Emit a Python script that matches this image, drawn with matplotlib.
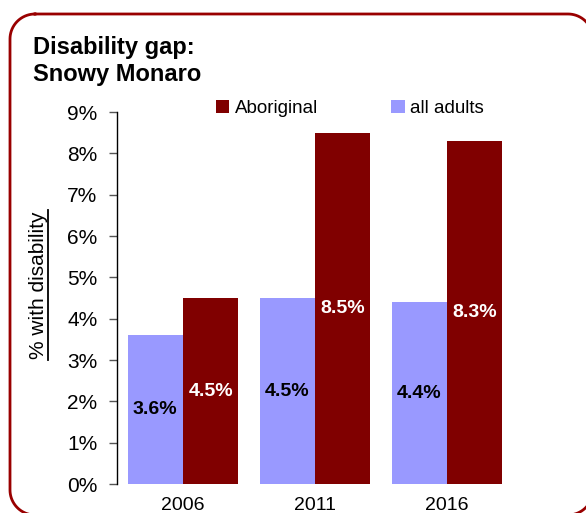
import matplotlib.pyplot as plt
import numpy as np

plt.rcParams['font.family'] = ['Liberation Sans', 'DejaVu Sans']

years = ['2006', '2011', '2016']
all_adults = [3.6, 4.5, 4.4]
aboriginal = [4.5, 8.5, 8.3]
yticks = [0, 1, 2, 3, 4, 5, 6, 7, 8, 9]

lav = '#9999FF'
maroon = '#800000'

W, H = 586, 513
fig = plt.figure(figsize=(W/100, H/100), dpi=100)
ax = fig.add_axes([117/W, 29/H, 396/W, 372/H])

x = np.arange(len(years))
w = 0.42
b1 = ax.bar(x - w/2, all_adults, w, color=lav, label='all adults')
b2 = ax.bar(x + w/2, aboriginal, w, color=maroon, label='Aboriginal')

# etichette al centro delle barre
for i in range(len(years)):
    ax.text(x[i] - w/2, all_adults[i]/2, f'{all_adults[i]:.1f}%', ha='center', va='center',
            fontsize=14, fontweight='bold', color='black')
    ax.text(x[i] + w/2, aboriginal[i]/2, f'{aboriginal[i]:.1f}%', ha='center', va='center',
            fontsize=14, fontweight='bold', color='white')

ax.set_xlim(-0.5, 2.5)
ax.set_ylim(0, 9)
ax.set_yticks(yticks)
ax.set_yticklabels([f'{v}%' for v in yticks], fontsize=15)
ax.set_xticks(x)
ax.set_xticklabels(years, fontsize=14)
ax.tick_params(axis='x', length=0, pad=9.5)
ax.tick_params(axis='y', length=6, width=1, color='#555555', pad=8)
for s in ['top', 'right', 'bottom']:
    ax.spines[s].set_visible(False)
ax.spines['left'].set_linewidth(1)

leg = ax.legend([b2, b1], ['Aboriginal', 'all adults'], ncol=2, frameon=False,
                loc='center left', bbox_to_anchor=(0.232, 1.01), fontsize=13.5,
                handlelength=0.7, handleheight=0.7, handletextpad=0.3,
                columnspacing=3.9, borderaxespad=0)

fig.text(33/W, 1 - 61/H, 'Disability gap:\nSnowy Monaro', fontsize=17,
         fontweight='bold', ha='left', va='center', linespacing=1.2)

# etichetta asse y sottolineata
fig.text(39/W, 1 - 285/H, '% with disability', fontsize=15, rotation=90,
         ha='center', va='center')
fig.add_artist(plt.Line2D([48/W, 48/W], [1 - 210/H, 1 - 360/H],
                          color='black', lw=1.3, transform=fig.transFigure))

# cornice arrotondata (in pixel, origine in alto a sinistra)
# ordine: alto-sx, basso-sx, basso-dx, alto-dx
L, T, R, B, rad = 10, 14, 593, 515, 25
t = np.linspace(0, np.pi/2, 20)
px = np.concatenate([L + rad - rad*np.sin(t), L + rad - rad*np.cos(t),
                     R - rad + rad*np.sin(t), R - rad + rad*np.cos(t)])
py = np.concatenate([T + rad - rad*np.cos(t), B - rad + rad*np.sin(t),
                     B - rad + rad*np.cos(t), T + rad - rad*np.sin(t)])
px = np.append(px, px[0])
py = np.append(py, py[0])
fig.add_artist(plt.Line2D(px / W, 1 - py / H, color='#990000', lw=2,
                          transform=fig.transFigure, solid_joinstyle='round'))

fig.savefig('out.png', dpi=100)
